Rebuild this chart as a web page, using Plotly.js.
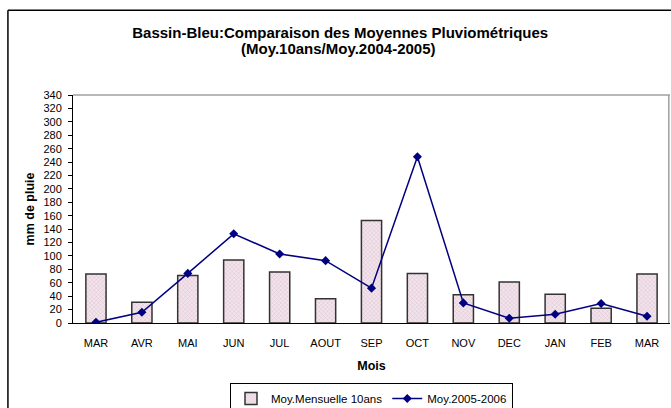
<!DOCTYPE html>
<html>
<head>
<meta charset="utf-8">
<script src="https://cdn.plot.ly/plotly-3.0.1.min.js"></script>
<style>
  html, body { margin: 0; padding: 0; background: #fff; }
  #graph { width: 671px; height: 408px; }
</style>
</head>
<body>
<div id="graph"></div>
<script>
// Mois (mars à mars)
const mois = ["MAR", "AVR", "MAI", "JUN", "JUL", "AOUT", "SEP", "OCT", "NOV", "DEC", "JAN", "FEB", "MAR"];
// Moyenne mensuelle sur 10 ans (barres)
const moy10ans = [73, 31, 71, 94, 76, 36, 153, 74, 42, 61, 43, 22, 73];
// Moyenne 2005-2006 (ligne)
const moy2005 = [1, 16, 74, 133, 103, 93, 52, 248, 30, 7, 13, 29, 10];
// Graduations de l'axe Y
const yTicks = [0, 20, 40, 60, 80, 100, 120, 140, 160, 180, 200, 220, 240, 260, 280, 300, 320, 340];

const police = "Arial, 'Liberation Sans', sans-serif";
const idx = mois.map((m, i) => i);
const limites = mois.slice(1).map((m, i) => i + 0.5);

const data = [
    {
        type: "bar",
        x: idx,
        y: moy10ans,
        name: "Moy.Mensuelle 10ans",
        width: 0.44,
        marker: {
            color: "#efdce6",
            line: { color: "#333333", width: 1.5 },
            pattern: { shape: "x", fgcolor: "#cfadbf", bgcolor: "#f3e4ec", size: 3, solidity: 0.2 }
        }
    },
    {
        type: "scatter",
        mode: "lines+markers",
        x: idx,
        y: moy2005,
        name: "Moy.2005-2006",
        line: { color: "#000080", width: 1.5 },
        marker: { symbol: "diamond", size: 7, color: "#000080" }
    }
];

// Axes secondaires pour les graduations croisées (style Excel)
const axeVide = { showline: false, showgrid: false, zeroline: false, showticklabels: false };

const layout = {
    width: 671,
    height: 408,
    margin: { l: 73, r: 1, t: 95, b: 85, autoexpand: false },
    paper_bgcolor: "#ffffff",
    plot_bgcolor: "#ffffff",
    font: { family: police, size: 11, color: "#000" },
    showlegend: true,
    title: {
        text: "Bassin-Bleu:Comparaison des Moyennes Pluviométriques",
        font: { family: police, size: 15, color: "#000", weight: "bold" },
        x: 0.507, xanchor: "center",
        y: 1 - 33 / 408, yanchor: "middle"
    },
    annotations: [
        {
            text: "(Moy.10ans/Moy.2004-2005)",
            xref: "paper", yref: "paper",
            x: (338 - 73) / 597, y: (323 - 48.5) / 228,
            xanchor: "center", yanchor: "middle", showarrow: false,
            font: { family: police, size: 15, color: "#000", weight: "bold" }
        }
    ],
    xaxis: {
        range: [-0.5, 12.5],
        tickvals: idx,
        ticktext: mois,
        ticks: "",
        ticklabelstandoff: 10,
        showgrid: false,
        zeroline: false,
        showline: true,
        linecolor: "#000",
        linewidth: 1,
        automargin: false,
        tickfont: { family: police, size: 11, color: "#000" },
        title: { text: "Mois", font: { family: police, size: 12.5, weight: "bold" }, standoff: 13 }
    },
    xaxis2: Object.assign({}, axeVide, {
        overlaying: "x", anchor: "y", side: "bottom",
        range: [-0.5, 12.5], tickvals: limites,
        ticks: "outside", ticklen: 4, tickcolor: "#000", tickwidth: 1
    }),
    xaxis3: Object.assign({}, axeVide, {
        overlaying: "x", anchor: "y", side: "bottom",
        range: [-0.5, 12.5], tickvals: limites,
        ticks: "inside", ticklen: 4, tickcolor: "#000", tickwidth: 1
    }),
    yaxis: {
        range: [0, 340],
        tickvals: yTicks,
        ticks: "outside",
        ticklen: 4,
        tickcolor: "#000",
        ticklabelstandoff: 4,
        showgrid: false,
        zeroline: false,
        showline: true,
        linecolor: "#000",
        linewidth: 1,
        automargin: false,
        tickfont: { family: police, size: 11, color: "#000" },
        title: { text: "mm de pluie", font: { family: police, size: 12.5, weight: "bold" }, standoff: 6 }
    },
    yaxis2: Object.assign({}, axeVide, {
        overlaying: "y", anchor: "x", side: "left",
        range: [0, 340], tickvals: yTicks,
        ticks: "inside", ticklen: 4, tickcolor: "#000", tickwidth: 1
    }),
    legend: {
        orientation: "h",
        x: 0.5, xanchor: "center",
        y: (323 - 383) / 228, yanchor: "top",
        bordercolor: "#000",
        borderwidth: 1,
        bgcolor: "#fff",
        font: { family: police, size: 11.5, color: "#000" },
        itemwidth: 30,
        tracegroupgap: 0
    },
    shapes: [
        // bordure du graphique
        { type: "line", xref: "paper", yref: "paper", x0: -0.109, x1: -0.109, y0: -0.6, y1: 1.372, line: { color: "#000", width: 1.5 } },
        { type: "line", xref: "paper", yref: "paper", x0: -0.109, x1: 1.01, y0: 1.372, y1: 1.372, line: { color: "#000", width: 1.5 } },
        // bordure de la zone de tracé
        { type: "line", xref: "paper", yref: "paper", x0: 0, x1: 1, y0: 1, y1: 1, line: { color: "#a0a0a0", width: 1.5 } },
        { type: "line", xref: "paper", yref: "paper", x0: 0.998, x1: 0.998, y0: 0, y1: 1, line: { color: "#a0a0a0", width: 1.5 } }
    ],
    bargap: 0.56
};

Plotly.newPlot("graph", data, layout, { displayModeBar: false, staticPlot: true });
</script>
</body>
</html>
